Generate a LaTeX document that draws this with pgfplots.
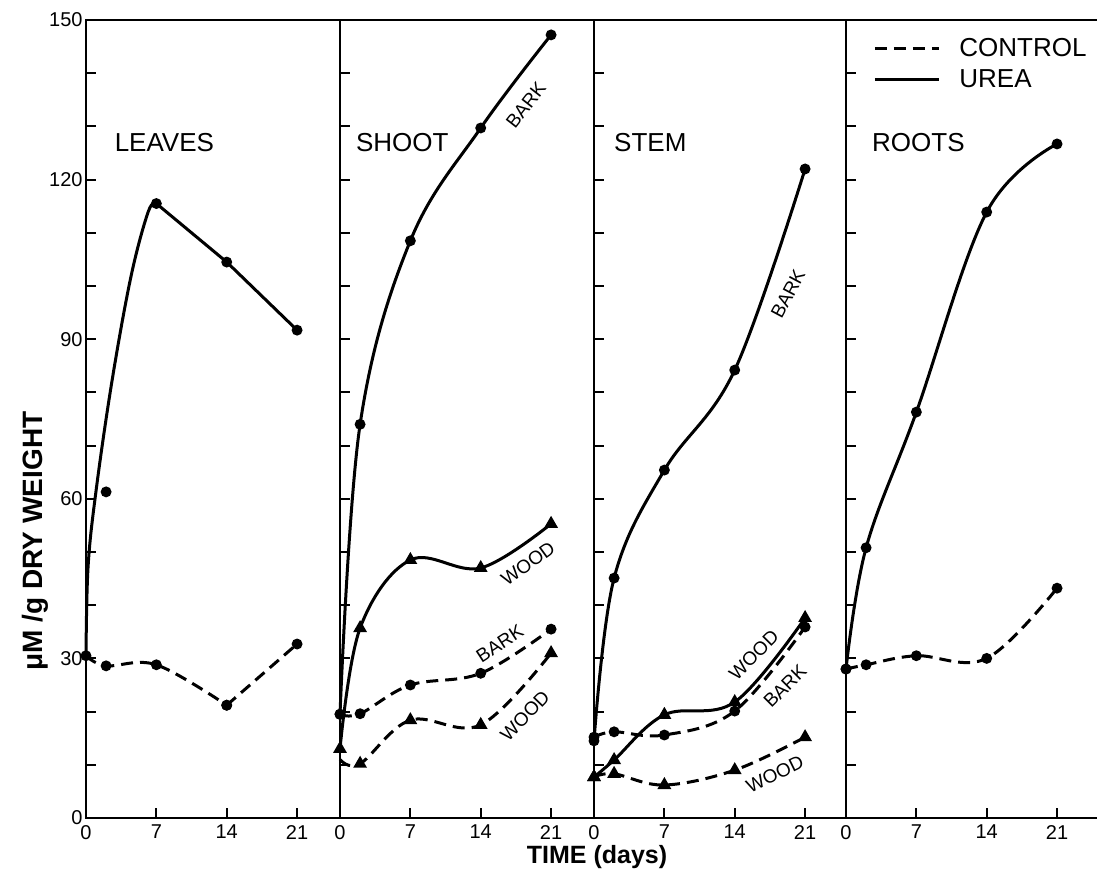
\documentclass[border=0pt]{standalone}
\usepackage{pgfplots}
\pgfplotsset{compat=1.18}
\usepackage{fontspec}
\setmainfont{Liberation Sans}

\tikzset{
 lab/.style={font=\fontsize{9.5}{11}\selectfont, inner sep=1pt},
 ttl/.style={font=\fontsize{13}{15}\selectfont},
}
\pgfplotsset{
 panel/.style={
   scale only axis, width=127pt, height=399pt,
   ymin=0, ymax=150, xmin=0, xmax=25.27,
   axis line style={line width=1pt},
   tick align=inside,
   xtick={0,7,14,21}, xtick pos=bottom,
   ytick={0,30,...,150}, minor ytick={10,20,40,50,70,80,100,110,130,140},
   ytick pos=left,
   major tick length=5pt, minor tick length=5pt,
   every tick/.style={black, line width=1pt},
   tick label style={font=\fontsize{10}{12}\selectfont},
   yticklabel style={inner sep=1.5pt},
   /pgf/number format/assume math mode=true,
   clip=false,
   yticklabels={},
 },
 ur/.style={black, line width=1.5pt, smooth, tension=0.6},
 co/.style={black, line width=1.5pt, dash pattern=on 6pt off 3.5pt, smooth, tension=0.6},
 circ/.style={mark=*, mark size=2.2pt, mark options={solid, line width=1pt}},
 tri/.style={mark=triangle*, mark size=3pt, mark options={solid, line width=1pt}},
}

\begin{document}
\begin{tikzpicture}
% ---------------- LEAVES ----------------
\begin{axis}[panel, at={(0pt,0pt)}, yticklabels={0,30,60,90,120,150}]
 % urea curve (traced)
 \addplot[ur, mark=none] coordinates {(0,30) (0.2,47) (1.0,61.5) (2.6,82.3) (4.5,102) (6.2,114) (7,115.5)};
 \addplot[black, line width=1.5pt, mark=none] coordinates {(7,115.5) (14,104.5) (21,91.7)};
 \addplot[only marks, black, circ] coordinates {(2,61.3) (7,115.5) (14,104.5) (21,91.7)};
 % control
 \addplot[co, circ] coordinates {(0,30.5) (2,28.6) (7,28.8) (14,21.2)};
 \addplot[black, line width=1.5pt, dash pattern=on 6pt off 3.5pt, circ] coordinates {(14,21.2) (21,32.7)};
 \node[ttl] at (axis cs:7.8,127) {LEAVES};
\end{axis}
% ---------------- SHOOT ----------------
\begin{axis}[panel, at={(127pt,0pt)}]
 \addplot[ur, circ] coordinates {(0,19.5) (2,74) (7,108.5) (14,129.7) (21,147.2)};
 \addplot[ur, tri] coordinates {(0,13) (2,35.7) (7,48.5) (14,47) (21,55.3)};
 \addplot[co, circ] coordinates {(0,19.5) (2,19.6) (7,25) (14,27.2) (21,35.5)};
 \addplot[co, tri, mark indices={2,3,4,5}] coordinates {(0,11) (2,10.2) (7,18.4) (14,17.5) (21,31)};
 \node[ttl] at (axis cs:6.2,127) {SHOOT};
 \node[lab, rotate=52] at (axis cs:18.5,134) {BARK};
 \node[lab, rotate=36] at (axis cs:18.7,47.8) {WOOD};
 \node[lab, rotate=33] at (axis cs:15.9,32.8) {BARK};
 \node[lab, rotate=46] at (axis cs:18.4,19.2) {WOOD};
\end{axis}
% ---------------- STEM ----------------
\begin{axis}[panel, at={(254pt,0pt)}, width=126pt, xmax=25.07]
 \addplot[ur, circ] coordinates {(0,14.5) (2,45.1) (7,65.4) (14,84.2) (21,122)};
 \addplot[ur, tri] coordinates {(0,7.7) (2,10.9) (7,19.4) (14,21.8) (21,37.6)};
 \addplot[co, circ] coordinates {(0,15.2) (2,16.2) (7,15.6) (14,20.1) (21,35.9)};
 \addplot[co, tri] coordinates {(0,7.7) (2,8.3) (7,6.2) (14,9) (21,15.2)};
 \node[ttl] at (axis cs:5.6,127) {STEM};
 \node[lab, rotate=62] at (axis cs:19.3,98.5) {BARK};
 \node[lab, rotate=45] at (axis cs:15.9,30.6) {WOOD};
 \node[lab, rotate=45] at (axis cs:19.0,24.8) {BARK};
 \node[lab, rotate=26] at (axis cs:18.0,8.2) {WOOD};
\end{axis}
% ---------------- ROOTS ----------------
\begin{axis}[panel, at={(380pt,0pt)}, width=131pt, xmax=26.07,
   legend style={at={(axis cs:2.69,141.7)}, anchor=west, draw=none, fill=none,
     inner xsep=0pt, inner ysep=0pt, font=\fontsize{13}{15}\selectfont,
     row sep=1pt,
     /tikz/every odd column/.append style={column sep=7.5pt}},
   legend cell align=left,
   legend image code/.code={\draw[#1] (0pt,0pt) -- (32pt,0pt);}]
 \addlegendimage{black, line width=1.5pt, dash pattern=on 6pt off 3.5pt}
 \addlegendentry{CONTROL}
 \addlegendimage{black, line width=1.5pt}
 \addlegendentry{UREA}
 \addplot[ur, circ, forget plot] coordinates {(0,28) (2,50.8) (7,76.3) (14,113.9) (21,126.7)};
 \addplot[co, circ, forget plot] coordinates {(0,28) (2,28.8) (7,30.5) (14,30) (21,43.2)};
 \node[ttl] at (axis cs:7.2,127) {ROOTS};
\end{axis}
\node[font=\bfseries\fontsize{12.5}{14}\selectfont] at (255.5pt,-19.5pt) {TIME (days)};
\node[rotate=90, font=\bfseries\fontsize{14}{16}\selectfont] at (-25.5pt,138.5pt) {μM /g DRY WEIGHT};
\pgfresetboundingbox
\path[use as bounding box] (-43pt,-30pt) rectangle (505.5pt,409pt);
\end{tikzpicture}
\end{document}
